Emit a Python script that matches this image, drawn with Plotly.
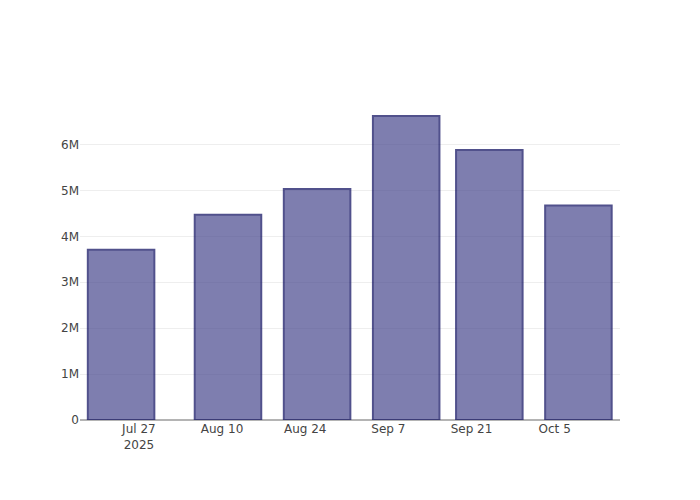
import plotly.graph_objects as go

dates = ["2025-07-24", "2025-08-11", "2025-08-26", "2025-09-10", "2025-09-24", "2025-10-09"]
values = [3710000, 4470000, 5030000, 6620000, 5880000, 4670000]

fig = go.Figure(
    go.Bar(
        x=dates,
        y=values,
        marker=dict(color="rgb(72,72,142)", line=dict(color="rgb(8,8,92)", width=2)),
        opacity=0.7,
    )
)

fig.update_layout(
    width=700,
    height=500,
    margin=dict(l=80, r=80, t=100, b=80),
    plot_bgcolor="white",
    paper_bgcolor="white",
    font=dict(family="DejaVu Sans", size=12, color="#444"),
    showlegend=False,
    xaxis=dict(
        type="date",
        range=["2025-07-17 02:00", "2025-10-16"],
        showgrid=False,
        showline=False,
        zeroline=False,
        ticks="",
    ),
    yaxis=dict(
        showgrid=True,
        gridcolor="#eeeeee",
        zeroline=True,
        zerolinecolor="#b4b4b4",
        zerolinewidth=2,
        rangemode="tozero",
    ),
)

fig.write_html(
    "out.html",
    config={"displayModeBar": False},
    post_script="document.body.style.margin='0';document.body.style.padding='0';",
)
